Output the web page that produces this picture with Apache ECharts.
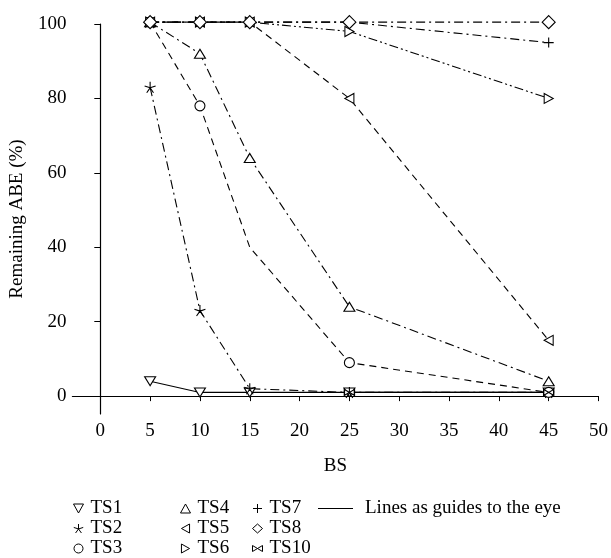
<!DOCTYPE html>
<html>
<head>
<meta charset="utf-8">
<script src="https://cdn.jsdelivr.net/npm/echarts@6/dist/echarts.min.js"></script>
<style>html,body{margin:0;padding:0;background:#fff}#c{width:611px;height:558px}</style>
</head>
<body>
<div id="c"></div>
<script>
// ---- data ----
var bs = [5, 10, 15, 25, 45];
var ts1 = [4, 1, 1, 1, 1];
var ts2 = [83, 23, 2, 1, 1];
var ts3 = [100.5, 78, 40, 9, 1];
var ts4 = [100.5, 92, 64, 24, 4];
var ts5 = [100.5, 100.5, 100.5, 80, 15];
var ts6 = [100.5, 100.5, 100.5, 98, 80];
var ts7 = [100.5, 100.5, 100.5, 100.5, 95];
var ts8 = [100.5, 100.5, 100.5, 100.5, 100.5];
var ts10 = [null, null, null, 1, 1];
var xTicks = [0, 5, 10, 15, 20, 25, 30, 35, 40, 45, 50];
var yTicks = [0, 20, 40, 60, 80, 100];
var hiddenMarker = { ts3: [15] }; // point drawn without marker in the original

// ---- symbols ----
var SYM = {
  down: 'path://M0,0 L10,0 L5,9 Z',
  up: 'path://M5,0 L10,9 L0,9 Z',
  left: 'path://M0,5 L9,0 L9,10 Z',
  right: 'path://M0,0 L9,5 L0,10 Z',
  star: 'path://M5,5 L5,0 M5,5 L9.76,3.45 M5,5 L7.94,9.05 M5,5 L2.06,9.05 M5,5 L0.24,3.45',
  plus: 'path://M5,0 L5,10 M0,5 L10,5',
  diamond: 'diamond',
  circle: 'circle',
  bowtie: 'path://M0,0 L10,6 L10,0 L0,6 Z'
};
var DASH = [7, 5];
var DASHDOT = [9, 4, 2, 4];
var DASHDOTDOT = [9, 3, 2, 3, 2, 3];

function pairs(vals, hidden) {
  var out = [];
  for (var i = 0; i < bs.length; i++) {
    if (vals[i] === null) continue;
    var item = { value: [bs[i], vals[i]] };
    if (hidden && hidden.indexOf(bs[i]) >= 0) item.symbol = 'none';
    out.push(item);
  }
  return out;
}

function mk(name, vals, sym, size, dash, hidden) {
  return {
    name: name, type: 'line', data: pairs(vals, hidden), clip: false,
    symbol: SYM[sym], symbolSize: size,
    itemStyle: { color: '#fff', borderColor: '#000', borderWidth: 1.1 },
    lineStyle: { color: '#000', width: 1.1, type: dash },
    emphasis: { disabled: true }, animation: false
  };
}

var series = [
  mk('TS1', ts1, 'down', [11, 9], 'solid'),
  mk('TS2', ts2, 'star', 11, DASHDOT),
  mk('TS3', ts3, 'circle', 10, DASH, hiddenMarker.ts3),
  mk('TS4', ts4, 'up', [11, 9], DASHDOT),
  mk('TS5', ts5, 'left', [9, 10], DASH),
  mk('TS6', ts6, 'right', [9, 10], DASHDOTDOT),
  mk('TS7', ts7, 'plus', 10, DASHDOT),
  mk('TS8', ts8, 'diamond', 13, DASHDOT),
  mk('TS10', ts10, 'bowtie', [10, 6], 'solid'),
  { name: 'Lines as guides to the eye', type: 'line', data: [], lineStyle: { color: '#000' }, itemStyle: { color: '#000' } }
];

var font = 'Liberation Serif, DejaVu Serif, serif';
function leg(left, items) {
  return {
    orient: 'vertical', left: left, top: 499, itemGap: 1, selectedMode: false,
    itemWidth: 10, itemHeight: 9, padding: 0,
    textStyle: { fontFamily: font, fontSize: 19, color: '#000', padding: [0, 0, 0, 2] },
    data: items.map(function (it) {
      return { name: it[0], icon: SYM[it[1]], itemStyle: { color: '#fff', borderColor: '#000', borderWidth: 1 } };
    })
  };
}

var legends = [
  leg(73, [['TS1', 'down'], ['TS2', 'star'], ['TS3', 'circle']]),
  leg(180, [['TS4', 'up'], ['TS5', 'left'], ['TS6', 'right']]),
  leg(252, [['TS7', 'plus'], ['TS8', 'diamond'], ['TS10', 'bowtie']]),
  {
    left: 318, top: 499, selectedMode: false, itemWidth: 35, itemHeight: 1.2, padding: 0,
    textStyle: { fontFamily: font, fontSize: 19, color: '#000', padding: [0, 0, 0, 7] },
    data: [{ name: 'Lines as guides to the eye', icon: 'rect', itemStyle: { color: '#000' } }]
  }
];

var chart = echarts.init(document.getElementById('c'), null, { renderer: 'canvas' });
chart.setOption({
  animation: false,
  backgroundColor: '#fff',
  grid: { left: 72, right: 10, top: 24, bottom: 144, containLabel: false },
  legend: legends,
  xAxis: {
    type: 'value', min: -2.8, max: 50,
    name: 'BS', nameLocation: 'middle', nameGap: 43,
    nameTextStyle: { fontFamily: font, fontSize: 19, color: '#000' },
    axisLine: { show: true, lineStyle: { color: '#000', width: 1.2 } },
    axisTick: { show: true, length: 5, inside: false, customValues: xTicks, lineStyle: { color: '#000' } },
    axisLabel: { customValues: xTicks, fontFamily: font, fontSize: 19, color: '#000', margin: 8 },
    splitLine: { show: false }
  },
  yAxis: {
    type: 'value', min: -4.8, max: 100,
    name: 'Remaining ABE (%)', nameLocation: 'middle', nameGap: 38,
    nameTextStyle: { fontFamily: font, fontSize: 19, color: '#000' },
    axisLine: { show: true, lineStyle: { color: '#000', width: 1.2 } },
    axisTick: { show: true, length: 6, customValues: yTicks, lineStyle: { color: '#000' } },
    axisLabel: { customValues: yTicks, fontFamily: font, fontSize: 19, color: '#000', margin: 6 },
    splitLine: { show: false }
  },
  series: series
});
</script>
</body>
</html>
